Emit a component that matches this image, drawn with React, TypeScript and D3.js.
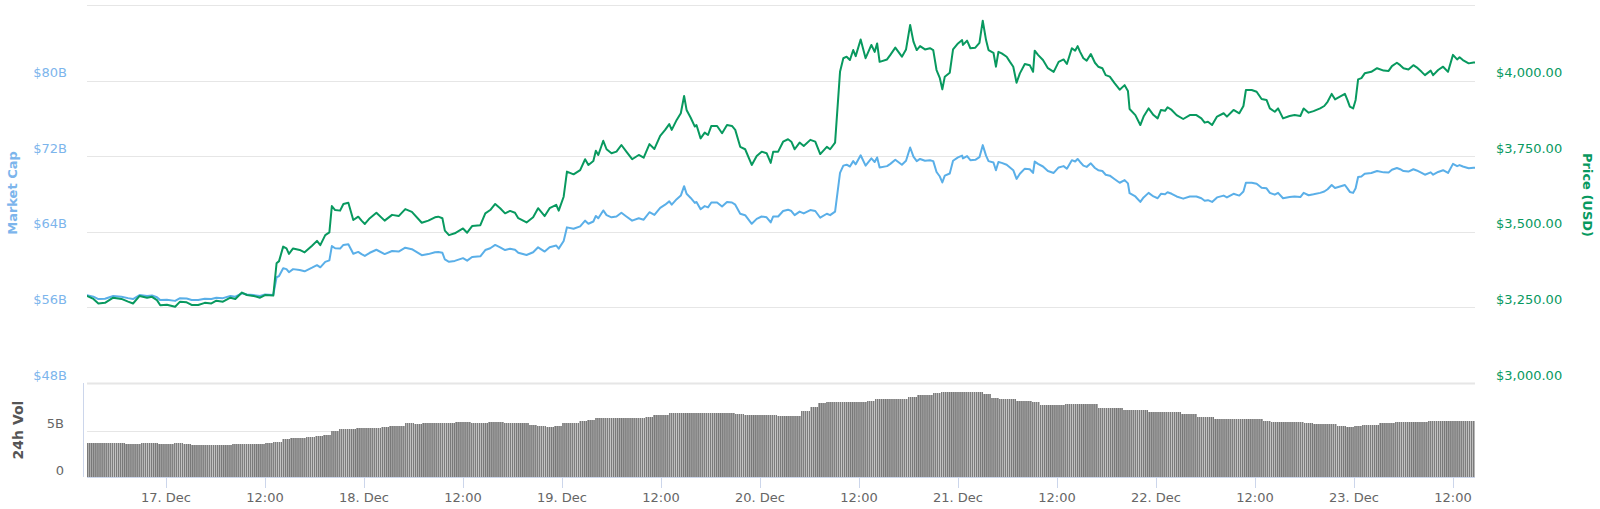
import React, { useEffect, useRef } from 'react';
import * as d3 from 'd3';

// hours after 17 Dec 2018 00:00 (UTC)
const priceHours = [
  -9.6, -8.8, -8.2, -7.4, -6.4, -5.4, -4.6, -4.0, -3.2, -2.3,
  -1.7, -1.1, -0.7, 0.1, 1.1, 1.7, 2.5, 3.1, 3.9, 4.7,
  5.5, 6.1, 6.9, 7.8, 8.4, 9.2, 9.8, 10.6, 11.4, 12.0,
  13.0, 13.4, 13.7, 14.2, 14.6, 14.9, 15.4, 16.2, 16.8, 17.7,
  18.3, 18.7, 19.3, 19.8, 20.1, 20.5, 21.1, 21.5, 22.1, 22.7,
  23.3, 23.7, 24.1, 24.7, 25.5, 26.5, 27.4, 28.2, 29.0, 29.8,
  31.0, 31.8, 32.6, 33.0, 33.5, 33.8, 34.3, 35.0, 36.0, 36.5,
  37.1, 38.1, 38.7, 39.3, 39.9, 40.5, 41.1, 41.7, 42.3, 42.7,
  43.7, 44.5, 45.1, 45.9, 46.5, 47.3, 47.6, 48.2, 48.6, 49.4,
  50.2, 50.8, 51.2, 51.8, 52.1, 52.4, 53.0, 53.4, 54.0, 54.6,
  55.2, 55.8, 56.5, 57.3, 57.9, 58.6, 59.2, 59.9, 60.5, 61.0,
  61.3, 61.9, 62.4, 62.8, 63.1, 63.6, 64.1, 64.3, 64.8, 65.3,
  65.7, 66.1, 66.8, 67.4, 68.0, 68.6, 69.0, 69.6, 70.2, 71.0,
  71.6, 72.2, 72.8, 73.3, 73.6, 74.2, 74.8, 75.4, 75.8, 76.2,
  76.8, 77.3, 78.1, 78.7, 79.3, 80.1, 80.5, 81.1, 81.7, 82.1,
  82.5, 82.9, 83.3, 83.6, 84.2, 84.8, 85.5, 85.9, 86.2, 86.5,
  87.4, 87.8, 88.4, 89.2, 89.7, 90.2, 90.6, 91.0, 91.4, 92.0,
  92.6, 93.0, 93.4, 93.8, 94.1, 94.4, 95.0, 95.4, 96.0, 96.5,
  96.6, 97.1, 97.5, 98.1, 98.6, 99.0, 99.4, 99.7, 100.3, 100.6,
  100.9, 101.3, 101.9, 102.3, 102.7, 103.1, 103.5, 104.1, 104.7, 105.1,
  105.3, 105.7, 106.3, 106.9, 107.6, 108.2, 108.8, 109.2, 109.8, 110.2,
  110.5, 110.8, 111.2, 111.6, 112.1, 112.6, 113.0, 113.5, 113.9, 114.4,
  115.0, 115.6, 116.2, 116.6, 116.8, 117.5, 118.1, 118.5, 119.1, 119.7,
  120.2, 120.6, 121.1, 121.4, 121.9, 122.5, 123.3, 124.1, 124.9, 125.5,
  125.9, 126.3, 126.8, 127.4, 128.2, 128.6, 129.4, 130.1, 130.6, 130.9,
  131.6, 132.2, 132.8, 133.4, 133.8, 134.4, 134.8, 135.4, 136.2, 136.8,
  137.5, 137.9, 138.5, 139.1, 139.9, 140.4, 140.8, 141.3, 141.7, 142.3,
  142.9, 143.2, 143.5, 143.9, 144.2, 144.5, 144.9, 145.3, 146.1, 146.8,
  147.6, 148.2, 148.6, 149.2, 149.6, 150.0, 150.6, 151.2, 151.6, 152.2,
  152.6, 153.3, 153.6, 154.2, 154.8, 155.4, 156.0, 156.5, 156.8, 157.2,
  157.9, 158.5, 158.7,
];

const priceUsd = [
  3288, 3278, 3263, 3265, 3282, 3278, 3269, 3263, 3288, 3282,
  3285, 3274, 3257, 3259, 3252, 3269, 3267, 3258, 3258, 3265,
  3263, 3272, 3269, 3282, 3278, 3299, 3291, 3288, 3282, 3291,
  3289, 3396, 3403, 3451, 3445, 3427, 3445, 3440, 3432, 3454,
  3470, 3456, 3489, 3498, 3585, 3572, 3570, 3592, 3596, 3539,
  3550, 3537, 3526, 3545, 3563, 3537, 3556, 3552, 3575, 3566,
  3530, 3537, 3548, 3550, 3545, 3504, 3489, 3495, 3511, 3497,
  3519, 3522, 3561, 3572, 3592, 3578, 3561, 3569, 3563, 3545,
  3531, 3548, 3578, 3552, 3578, 3589, 3570, 3616, 3699, 3690,
  3704, 3740, 3721, 3734, 3768, 3754, 3801, 3773, 3760, 3765,
  3787, 3765, 3740, 3754, 3745, 3790, 3774, 3817, 3837, 3856,
  3837, 3870, 3892, 3949, 3903, 3877, 3848, 3853, 3809, 3828,
  3820, 3850, 3850, 3826, 3853, 3850, 3837, 3781, 3773, 3721,
  3751, 3765, 3760, 3728, 3765, 3765, 3798, 3806, 3798, 3773,
  3795, 3784, 3804, 3798, 3757, 3781, 3773, 3795, 4029, 4074,
  4079, 4068, 4101, 4081, 4136, 4074, 4118, 4095, 4123, 4062,
  4070, 4085, 4109, 4079, 4103, 4184, 4129, 4101, 4114, 4103,
  4107, 4101, 4035, 4008, 3971, 4013, 4026, 4103, 4123, 4134,
  4118, 4132, 4107, 4109, 4125, 4198, 4134, 4101, 4092, 4046,
  4095, 4090, 4079, 4062, 4046, 3993, 4024, 4055, 4051, 4029,
  4099, 4085, 4068, 4041, 4029, 4062, 4070, 4055, 4107, 4099,
  4114, 4095, 4074, 4066, 4088, 4059, 4046, 4041, 4018, 4013,
  3991, 3970, 3985, 3966, 3906, 3886, 3853, 3881, 3908, 3886,
  3875, 3903, 3900, 3912, 3903, 3886, 3873, 3886, 3886, 3875,
  3861, 3864, 3853, 3881, 3892, 3881, 3903, 3892, 3916, 3969,
  3969, 3963, 3939, 3936, 3908, 3897, 3908, 3875, 3883, 3886,
  3883, 3908, 3894, 3899, 3908, 3916, 3930, 3956, 3938, 3947,
  3956, 3936, 3914, 3908, 3936, 4004, 4008, 4024, 4029, 4041,
  4033, 4032, 4048, 4059, 4051, 4041, 4037, 4051, 4044, 4029,
  4018, 4033, 4018, 4035, 4046, 4029, 4085, 4070, 4077, 4068,
  4057, 4060, 4060,
];

// billions of USD
const marketCapB = [
  57.30, 57.13, 56.88, 56.92, 57.21, 57.13, 56.98, 56.88, 57.30, 57.21,
  57.26, 57.07, 56.77, 56.80, 56.69, 56.98, 56.94, 56.79, 56.79, 56.92,
  56.88, 57.03, 56.98, 57.21, 57.13, 57.49, 57.36, 57.30, 57.21, 57.36,
  57.32, 59.19, 59.32, 60.15, 60.05, 59.72, 60.05, 59.96, 59.82, 60.20,
  60.47, 60.24, 60.82, 60.98, 62.49, 62.26, 62.22, 62.61, 62.68, 61.68,
  61.87, 61.64, 61.45, 61.78, 62.10, 61.64, 61.97, 61.91, 62.32, 62.16,
  61.53, 61.64, 61.84, 61.87, 61.78, 61.07, 60.82, 60.92, 61.21, 60.95,
  61.34, 61.40, 62.07, 62.26, 62.61, 62.36, 62.07, 62.20, 62.10, 61.78,
  61.55, 61.84, 62.36, 61.91, 62.36, 62.55, 62.22, 63.03, 64.47, 64.32,
  64.57, 65.18, 64.85, 65.09, 65.68, 65.43, 66.26, 65.76, 65.53, 65.62,
  66.01, 65.62, 65.18, 65.43, 65.28, 66.07, 65.78, 66.53, 66.87, 67.22,
  66.87, 67.45, 67.83, 68.83, 68.02, 67.58, 67.06, 67.16, 66.39, 66.72,
  66.58, 67.10, 67.10, 66.68, 67.16, 67.10, 66.87, 65.91, 65.76, 64.85,
  65.37, 65.62, 65.53, 64.99, 65.62, 65.62, 66.20, 66.34, 66.20, 65.76,
  66.14, 65.95, 66.30, 66.20, 65.49, 65.91, 65.76, 66.14, 70.23, 71.00,
  71.10, 70.91, 71.48, 71.14, 72.10, 71.00, 71.77, 71.39, 71.87, 70.81,
  70.95, 71.19, 71.62, 71.10, 71.52, 72.92, 71.96, 71.48, 71.71, 71.52,
  71.58, 71.48, 70.33, 69.85, 69.22, 69.94, 70.17, 71.52, 71.87, 72.06,
  71.77, 72.02, 71.58, 71.62, 71.90, 73.17, 72.06, 71.48, 71.33, 70.52,
  71.39, 71.29, 71.10, 70.81, 70.52, 69.60, 70.14, 70.68, 70.62, 70.23,
  71.44, 71.19, 70.91, 70.43, 70.23, 70.81, 70.95, 70.68, 71.58, 71.44,
  71.71, 71.39, 71.00, 70.87, 71.25, 70.75, 70.52, 70.43, 70.04, 69.94,
  69.56, 69.19, 69.47, 69.12, 68.08, 67.74, 67.16, 67.64, 68.12, 67.74,
  67.55, 68.02, 67.98, 68.18, 68.02, 67.74, 67.51, 67.74, 67.74, 67.55,
  67.29, 67.35, 67.16, 67.64, 67.83, 67.64, 68.02, 67.83, 68.26, 69.18,
  69.18, 69.08, 68.66, 68.60, 68.12, 67.93, 68.12, 67.55, 67.68, 67.74,
  67.68, 68.12, 67.87, 67.97, 68.12, 68.26, 68.50, 68.95, 68.64, 68.79,
  68.95, 68.60, 68.22, 68.12, 68.60, 69.79, 69.85, 70.14, 70.23, 70.43,
  70.29, 70.27, 70.56, 70.75, 70.62, 70.43, 70.37, 70.62, 70.49, 70.23,
  70.04, 70.29, 70.04, 70.33, 70.52, 70.23, 71.19, 70.95, 71.06, 70.91,
  70.72, 70.77, 70.77,
];

// hourly 24h volume in billions, first bar starts at 16 Dec 14:00
const volumeStartHour = -10;
const volumeB = [
  3.73, 3.73, 3.73, 3.73, 3.7, 3.6, 3.6, 3.73, 3.73, 3.6,
  3.6, 3.65, 3.6, 3.5, 3.44, 3.44, 3.44, 3.44, 3.6, 3.6,
  3.6, 3.6, 3.73, 3.8, 4.1, 4.2, 4.24, 4.3, 4.5, 4.6,
  5.0, 5.18, 5.2, 5.29, 5.29, 5.35, 5.45, 5.54, 5.54, 5.83,
  5.75, 5.83, 5.83, 5.83, 5.9, 5.98, 5.98, 5.9, 5.83, 5.95,
  5.98, 5.83, 5.83, 5.83, 5.6, 5.55, 5.43, 5.5, 5.83, 5.9,
  6.12, 6.2, 6.38, 6.38, 6.38, 6.45, 6.45, 6.45, 6.5, 6.74,
  6.74, 6.99, 6.99, 6.99, 6.99, 6.99, 6.99, 6.99, 6.99, 6.85,
  6.74, 6.74, 6.74, 6.74, 6.6, 6.6, 6.6, 7.2, 7.64, 8.0,
  8.1, 8.1, 8.1, 8.1, 8.1, 8.3, 8.48, 8.48, 8.48, 8.48,
  8.7, 8.9, 8.9, 9.1, 9.24, 9.24, 9.24, 9.24, 9.24, 9.0,
  8.6, 8.45, 8.45, 8.3, 8.2, 8.1, 7.8, 7.8, 7.85, 7.9,
  7.9, 7.9, 7.9, 7.46, 7.46, 7.46, 7.3, 7.28, 7.28, 7.1,
  7.1, 7.1, 7.0, 6.85, 6.85, 6.55, 6.49, 6.3, 6.27, 6.27,
  6.27, 6.27, 6.27, 6.1, 6.0, 6.0, 6.0, 6.0, 5.85, 5.72,
  5.72, 5.72, 5.5, 5.43, 5.5, 5.65, 5.65, 5.83, 5.9, 6.0,
  6.0, 6.0, 6.0, 6.1, 6.1, 6.1, 6.1, 6.1, 6.1,
];

const capTicks = [48, 56, 64, 72, 80];
const priceTicks = [3000, 3250, 3500, 3750, 4000];
const volTicks = [0, 5];

const T0 = Date.UTC(2018, 11, 17);
const hourToDate = (h: number) => new Date(T0 + h * 3600 * 1000);

const CAP_COLOR = '#5aafe8';
const CAP_LABEL = '#7cb5ec';
const PRICE_COLOR = '#08995f';
const FONT = '"DejaVu Sans", Verdana, sans-serif';

const App: React.FC = () => {
  const svgRef = useRef<SVGSVGElement>(null);

  useEffect(() => {
    document.body.style.margin = '0';
    if (!svgRef.current) return;

    const svg = d3.select(svgRef.current);
    svg.selectAll('*').remove();

    const left = 87;
    const right = 1475;
    const top = 5;
    const mainBottom = 383;
    const volBottom = 477;

    const x = d3.scaleUtc()
      .domain([hourToDate(-9.58), hourToDate(158.67)])
      .range([left, right]);
    const yPrice = d3.scaleLinear().domain([3000, 4250]).range([mainBottom, top]);
    const yCap = d3.scaleLinear().domain([48, 88]).range([mainBottom, top]);
    const yVol = d3.scaleLinear().domain([0, 10.2]).range([volBottom, mainBottom]);

    const defs = svg.append('defs');
    defs.append('clipPath').attr('id', 'plotClip')
      .append('rect')
      .attr('x', left).attr('y', 0)
      .attr('width', right - left).attr('height', volBottom);

    // stripe texture for the dense volume columns
    const stripeW = (x(hourToDate(1)) - x(hourToDate(0))) / 4;
    const pat = defs.append('pattern')
      .attr('id', 'volStripes')
      .attr('patternUnits', 'userSpaceOnUse')
      .attr('x', left).attr('y', 0)
      .attr('width', stripeW).attr('height', 20);
    pat.append('rect').attr('width', stripeW).attr('height', 20).attr('fill', '#c6c6c6');
    pat.append('rect').attr('width', stripeW * 0.62).attr('height', 20).attr('fill', '#777777');

    // grid lines (main panel)
    const gridVals = [...priceTicks, 4250];
    svg.append('g')
      .selectAll('line')
      .data(gridVals)
      .join('line')
      .attr('x1', left).attr('x2', right)
      .attr('y1', d => Math.round(yPrice(d)) + 0.5)
      .attr('y2', d => Math.round(yPrice(d)) + 0.5)
      .attr('stroke', '#e6e6e6')
      .attr('stroke-width', d => (d === 3000 ? 2 : 1));

    // volume grid
    svg.append('line')
      .attr('x1', left).attr('x2', right)
      .attr('y1', Math.round(yVol(5)) + 0.5).attr('y2', Math.round(yVol(5)) + 0.5)
      .attr('stroke', '#e6e6e6');

    // volume columns
    svg.append('g')
      .attr('clip-path', 'url(#plotClip)')
      .selectAll('rect')
      .data(volumeB)
      .join('rect')
      .attr('x', (_, i) => x(hourToDate(volumeStartHour + i)))
      .attr('width', (_, i) => x(hourToDate(volumeStartHour + i + 1)) - x(hourToDate(volumeStartHour + i)))
      .attr('y', d => yVol(d))
      .attr('height', d => volBottom - yVol(d))
      .attr('fill', 'url(#volStripes)')
      .attr('shape-rendering', 'crispEdges');

    // lines
    const n = Math.min(priceHours.length, priceUsd.length, marketCapB.length);
    const idx = d3.range(n);
    const capLine = d3.line<number>()
      .x(i => x(hourToDate(priceHours[i])))
      .y(i => yCap(marketCapB[i]));
    const priceLine = d3.line<number>()
      .x(i => x(hourToDate(priceHours[i])))
      .y(i => yPrice(priceUsd[i]));

    const lines = svg.append('g').attr('clip-path', 'url(#plotClip)');
    lines.append('path')
      .datum(idx)
      .attr('d', capLine)
      .attr('fill', 'none')
      .attr('stroke', CAP_COLOR)
      .attr('stroke-width', 2)
      .attr('stroke-linejoin', 'round');
    lines.append('path')
      .datum(idx)
      .attr('d', priceLine)
      .attr('fill', 'none')
      .attr('stroke', PRICE_COLOR)
      .attr('stroke-width', 2)
      .attr('stroke-linejoin', 'round');

    // x axis
    const axisColor = '#ccd6eb';
    svg.append('line')
      .attr('x1', left).attr('x2', right)
      .attr('y1', volBottom + 0.5).attr('y2', volBottom + 0.5)
      .attr('stroke', axisColor);
    svg.append('line')
      .attr('x1', 83.5).attr('x2', 83.5)
      .attr('y1', mainBottom).attr('y2', volBottom)
      .attr('stroke', axisColor);

    const xTicks = d3.utcHour.every(12)!.range(hourToDate(0), hourToDate(158.67));
    const fmtDay = d3.utcFormat('%-d. %b');
    const fmtHour = d3.utcFormat('%H:%M');
    const tg = svg.append('g');
    tg.selectAll('line')
      .data(xTicks)
      .join('line')
      .attr('x1', d => Math.round(x(d)) + 0.5)
      .attr('x2', d => Math.round(x(d)) + 0.5)
      .attr('y1', volBottom).attr('y2', volBottom + 11)
      .attr('stroke', axisColor);
    tg.selectAll('text')
      .data(xTicks)
      .join('text')
      .attr('x', d => x(d))
      .attr('y', 502)
      .attr('text-anchor', 'middle')
      .style('font-family', FONT)
      .style('font-size', '13px')
      .style('fill', '#666666')
      .text(d => (d.getUTCHours() === 0 ? fmtDay(d) : fmtHour(d)));

    // left axis: market cap
    svg.append('g')
      .selectAll('text')
      .data(capTicks)
      .join('text')
      .attr('x', 67)
      .attr('y', d => yCap(d) - 3.5)
      .attr('text-anchor', 'end')
      .style('font-family', FONT)
      .style('font-size', '13px')
      .style('fill', CAP_LABEL)
      .text(d => `$${d}B`);

    svg.append('text')
      .attr('transform', 'translate(17,193) rotate(-90)')
      .attr('text-anchor', 'middle')
      .style('font-family', FONT)
      .style('font-size', '13px')
      .style('font-weight', 'bold')
      .style('fill', CAP_LABEL)
      .text('Market Cap');

    // right axis: price
    const fmtPrice = d3.format('$,.2f');
    svg.append('g')
      .selectAll('text')
      .data(priceTicks)
      .join('text')
      .attr('x', 1496)
      .attr('y', d => yPrice(d) - 3.5)
      .attr('text-anchor', 'start')
      .style('font-family', FONT)
      .style('font-size', '13px')
      .style('fill', PRICE_COLOR)
      .text(d => fmtPrice(d));

    svg.append('text')
      .attr('transform', 'translate(1583,195) rotate(90)')
      .attr('text-anchor', 'middle')
      .style('font-family', FONT)
      .style('font-size', '13px')
      .style('font-weight', 'bold')
      .style('fill', PRICE_COLOR)
      .text('Price (USD)');

    // volume axis
    svg.append('g')
      .selectAll('text')
      .data(volTicks)
      .join('text')
      .attr('x', 64)
      .attr('y', d => yVol(d) - 2.5)
      .attr('text-anchor', 'end')
      .style('font-family', FONT)
      .style('font-size', '13px')
      .style('fill', '#666666')
      .text(d => (d === 0 ? '0' : `${d}B`));

    svg.append('text')
      .attr('transform', 'translate(23,430) rotate(-90)')
      .attr('text-anchor', 'middle')
      .style('font-family', FONT)
      .style('font-size', '14px')
      .style('font-weight', 'bold')
      .style('fill', '#555555')
      .text('24h Vol');
  }, []);

  return (
    <svg ref={svgRef} width={1600} height={509} style={{ display: 'block', background: '#ffffff' }} />
  );
};

export default App;
